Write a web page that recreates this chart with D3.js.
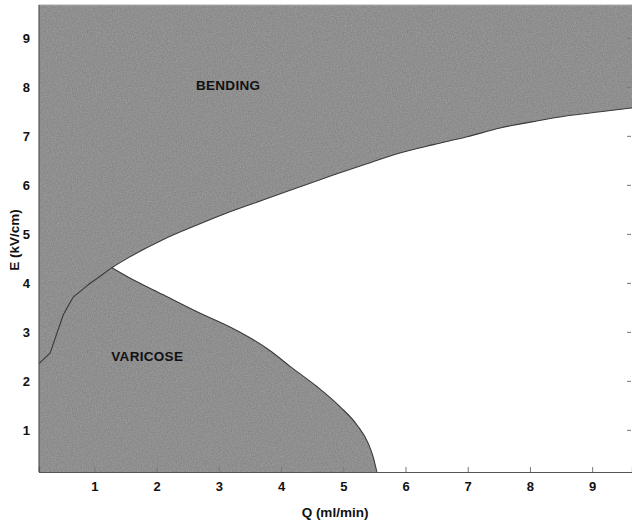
<!DOCTYPE html>
<html>
<head>
<meta charset="utf-8">
<script src="https://cdn.jsdelivr.net/npm/d3@7/dist/d3.min.js"></script>
<style>
  body { margin: 0; background: #fff; }
  text { font-family: "Liberation Sans", Arial, sans-serif; font-weight: bold; }
</style>
</head>
<body>
<div id="chart"></div>
<script>
// Data (Q in ml/min, E in kV/cm)
var xTicks = [1, 2, 3, 4, 5, 6, 7, 8, 9];
var yTicks = [1, 2, 3, 4, 5, 6, 7, 8, 9];

// left branch: from the left edge up to the tip
var leftQ = [0.11, 0.29, 0.50, 0.66, 0.90, 1.12, 1.28];
var leftE = [2.35, 2.57, 3.35, 3.71, 3.96, 4.16, 4.31];

// upper branch: bending / white boundary
var upperQ = [1.28, 1.57, 2.10, 2.65, 3.18, 3.71, 4.26, 4.84, 5.38, 5.91, 6.45, 6.99, 7.52, 8.05, 8.60, 9.13, 9.64];
var upperE = [4.31, 4.53, 4.88, 5.18, 5.45, 5.69, 5.94, 6.20, 6.43, 6.65, 6.82, 6.98, 7.16, 7.29, 7.41, 7.49, 7.57];

// lower branch: varicose / white boundary
var lowerQ = [1.28, 1.57, 2.10, 2.65, 3.18, 3.50, 3.82, 4.15, 4.58, 4.95, 5.22, 5.40, 5.48, 5.54];
var lowerE = [4.31, 4.10, 3.76, 3.41, 3.10, 2.88, 2.62, 2.29, 1.88, 1.47, 1.10, 0.73, 0.45, 0.14];

var regionLabels = ["BENDING", "VARICOSE"];
var labelQ = [3.15, 1.85];
var labelE = [7.93, 2.40];

var xMin = 0.11, xMax = 9.64, yMin = 0.14, yMax = 9.67;

var W = 632, H = 526;
var svg = d3.select("#chart").append("svg")
    .attr("width", W)
    .attr("height", H);

var x = d3.scaleLinear().domain([xMin, xMax]).range([39, 632]);
var y = d3.scaleLinear().domain([yMin, yMax]).range([472, 5]);

function pts(qs, es) {
  return qs.map(function(q, i) { return [q, es[i]]; });
}
var left = pts(leftQ, leftE);
var upper = pts(upperQ, upperE);
var lower = pts(lowerQ, lowerE);

// grainy gray texture (noise around the base tone)
var defs = svg.append("defs");
var f = defs.append("filter").attr("id", "grain")
    .attr("filterUnits", "userSpaceOnUse")
    .attr("x", 0).attr("y", 0).attr("width", W).attr("height", H)
    .attr("color-interpolation-filters", "sRGB");
f.append("feTurbulence").attr("type", "fractalNoise").attr("baseFrequency", 0.8).attr("numOctaves", 2).attr("seed", 3).attr("result", "n");
f.append("feColorMatrix").attr("in", "n").attr("type", "matrix")
  .attr("values", "1 0 0 0 0  1 0 0 0 0  1 0 0 0 0  0 0 0 0 1")
  .attr("result", "g");
f.append("feComposite").attr("in", "SourceGraphic").attr("in2", "g").attr("operator", "arithmetic")
  .attr("k1", 0).attr("k2", 1).attr("k3", 0.14).attr("k4", -0.07).attr("result", "c");
f.append("feComposite").attr("in", "c").attr("in2", "SourceGraphic").attr("operator", "in");

var gray = "#8f8f8f";

// gray background of the whole plot
svg.append("rect")
    .attr("x", x(xMin)).attr("y", y(yMax))
    .attr("width", x(xMax) - x(xMin))
    .attr("height", y(yMin) - y(yMax))
    .attr("fill", gray)
    .attr("filter", "url(#grain)");

var line = d3.line().x(function(d) { return x(d[0]); }).y(function(d) { return y(d[1]); });
var smooth = d3.line().x(function(d) { return x(d[0]); }).y(function(d) { return y(d[1]); })
    .curve(d3.curveMonotoneX);

// white wedge: upper branch, down the right edge, back along the lower branch
var wedgeD = smooth(upper)
    + "L" + x(xMax) + "," + y(yMin)
    + smooth(lower.slice().reverse()).replace(/^M/, "L")
    + "Z";
svg.append("path").attr("d", wedgeD).attr("fill", "#fff");

// boundary curves
svg.append("path")
    .attr("d", line(left))
    .attr("fill", "none").attr("stroke", "#3a3a3a").attr("stroke-width", 1.1)
    .attr("stroke-linejoin", "round");
[upper, lower].forEach(function(c) {
  svg.append("path")
      .attr("d", smooth(c))
      .attr("fill", "none")
      .attr("stroke", "#3a3a3a")
      .attr("stroke-width", 1.1);
});

// frame
svg.append("line").attr("x1", x(xMin)).attr("x2", x(xMax)).attr("y1", y(yMax)).attr("y2", y(yMax))
    .attr("stroke", "#aaa").attr("stroke-width", 1);
svg.append("line").attr("x1", x(xMin)).attr("x2", x(xMin)).attr("y1", y(yMax)).attr("y2", y(yMin))
    .attr("stroke", "#555").attr("stroke-width", 1.2);

// bottom axis, ticks pointing in
var xAxis = svg.append("g")
    .attr("transform", "translate(0," + y(yMin) + ")")
    .call(d3.axisBottom(x).tickValues(xTicks).tickSize(-5).tickPadding(10).tickFormat(d3.format("d")));
xAxis.select(".domain").attr("stroke", "#555").attr("stroke-width", 1.2);
xAxis.selectAll(".tick line").attr("stroke", "#777");
xAxis.selectAll("text").attr("font-size", 13).attr("fill", "#111");

// left axis, labels only
var yAxis = svg.append("g")
    .attr("transform", "translate(" + x(xMin) + ",0)")
    .call(d3.axisLeft(y).tickValues(yTicks).tickSize(0).tickPadding(9).tickFormat(d3.format("d")));
yAxis.select(".domain").remove();
yAxis.selectAll("text").attr("font-size", 13).attr("fill", "#111");

// right axis, ticks pointing in
var rAxis = svg.append("g")
    .attr("transform", "translate(" + (x(xMax) - 1) + ",0)")
    .call(d3.axisRight(y).tickValues(yTicks).tickSize(-4).tickFormat(""));
rAxis.select(".domain").remove();
rAxis.selectAll(".tick line").attr("stroke", "#777");

// axis titles
svg.append("text")
    .attr("x", 335).attr("y", 517)
    .attr("text-anchor", "middle")
    .attr("font-size", 13.5)
    .attr("fill", "#111")
    .text("Q  (ml/min)");

svg.append("text")
    .attr("transform", "translate(19,240) rotate(-90)")
    .attr("text-anchor", "middle")
    .attr("font-size", 13.5)
    .attr("fill", "#111")
    .text("E  (kV/cm)");

// region labels
svg.selectAll(".region")
    .data(regionLabels)
    .enter().append("text")
    .attr("class", "region")
    .attr("x", function(d, i) { return x(labelQ[i]); })
    .attr("y", function(d, i) { return y(labelE[i]); })
    .attr("text-anchor", "middle")
    .attr("font-size", 13.5)
    .attr("letter-spacing", 0.3)
    .attr("fill", "#111")
    .text(function(d) { return d; });
</script>
</body>
</html>
